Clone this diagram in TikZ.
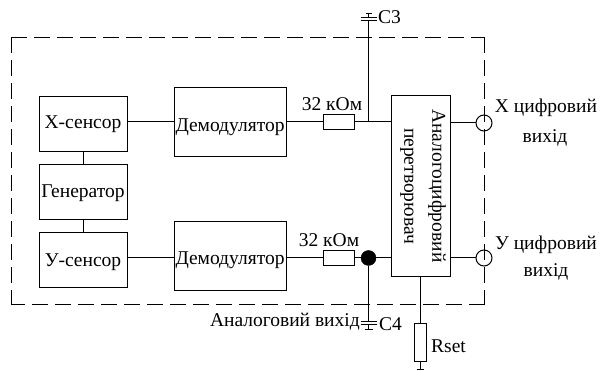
\documentclass[tikz,border=0pt]{standalone}
\usepackage{fontspec}
\setmainfont{Liberation Serif}
\usetikzlibrary{positioning}

\tikzset{
  block/.style={draw, line width=1pt, inner sep=0pt},
  lbl/.style={inner sep=0pt, font=\fontsize{19.5}{22}\selectfont},
  wire/.style={line width=1pt},
  border/.style={line width=1pt, line cap=rect, dash pattern=on 15pt off 8pt},
  port/.style={draw, circle, line width=1pt, minimum size=16pt, inner sep=0pt},
  resist/.style={draw, line width=1pt, inner sep=0pt, minimum width=31pt, minimum height=15pt}
}

\begin{document}
\begin{tikzpicture}[x=1pt, y=-1pt]
\useasboundingbox (0,0) rectangle (603,371);

% Dashed border of the chip
\coordinate (tl) at (11.5,38);
\coordinate (tr) at (484,38);
\coordinate (br) at (484,304.5);
\coordinate (bl) at (11.5,304.5);
\foreach \a/\b in {tl/tr, tr/br, br/bl, tl/bl} {
  \draw[border] (\a) -- (\b);
}

% Blocks
\node[block, minimum width=88pt, minimum height=55pt] (xsens) at (83,124.5) {};
\node[block, minimum width=88pt, minimum height=55pt] (gen) at (83,192) {};
\node[block, minimum width=88pt, minimum height=55pt] (ysens) at (83,260) {};
\node[block, minimum width=112pt, minimum height=69pt] (demx) at (230,122.5) {};
\node[block, minimum width=112pt, minimum height=69pt] (demy) at (230,256.5) {};
\node[block, minimum width=59pt, minimum height=181pt] (adc) at (420.5,186.5) {};

% Block texts
\node[lbl] (xsenst) at (83,124.5) {X-сенсор};
\node[lbl] (gent) at (83,193) {Генератор};
\node[lbl] (ysenst) at (83,262) {У-сенсор};
\node[lbl] (demxt) at (230,127) {Демодулятор};
\node[lbl] (demyt) at (230,260.5) {Демодулятор};
\node[lbl, rotate=-90] (adca) at (437,186) {Аналогоцифровий};
\node[lbl, rotate=-90] (adcb) at (407,186) {перетворювач};

% Resistors, junctions and ports
\node[resist] (rx) at (338.5,122) {};
\node[resist] (ry) at (338.5,258) {};
\node[resist, minimum width=12pt, minimum height=38pt] (rset) at (420,343) {};
\coordinate (jx) at (368.5,122);
\node[draw, circle, fill=black, minimum size=15pt, inner sep=0pt] (jy) at (368.5,258) {};
\node[port] (outx) at (484,123) {};
\node[port] (outy) at (484,258) {};
\coordinate (c3a) at (368.5,21);
\coordinate (c4a) at (368.5,321.5);
\coordinate (gnd) at (420,369.5);

% Wires
\draw[wire] (xsens.east |- rx) -- (demx.west |- rx);
\draw[wire] (ysens.east |- ry) -- (demy.west |- ry);
\draw[wire] (xsens) -- (gen);
\draw[wire] (gen) -- (ysens);
\draw[wire] (demx.east |- rx) -- (rx);
\draw[wire] (demy.east |- ry) -- (ry);
\draw[wire] (rx) -- (adc.west |- rx);
\draw[wire] (ry) -- (adc.west |- ry);
\draw[wire] (adc.east |- outx) -- (outx);
\draw[wire] (adc.east |- outy) -- (outy);
\draw[wire] (jx) -- (c3a);
\draw[wire] (jy) -- (c4a);
\draw[wire] (adc.south -| rset) -- (rset);
\draw[wire] (rset) -- (gnd);
\draw[wire] (gnd) ++(-3.5,0) -- ++(7,0);

% Capacitors
\foreach \yy/\hw in {21/8, 17.5/8, 14/3} {
  \draw[wire] (368.5,\yy) ++(-\hw,0) -- ++(2*\hw,0);
}
\foreach \yy/\hw in {321.5/8, 325/8, 330/4} {
  \draw[wire] (368.5,\yy) ++(-\hw,0) -- ++(2*\hw,0);
}
\draw[wire] (c3a) ++(0,-3.5) -- ++(0,-3.5);
\draw[wire] (c4a) ++(0,3.5) -- ++(0,5);

% Labels
\node[lbl, anchor=west] (c3) at (378,17) {C3};
\node[lbl, anchor=west] (c4) at (379,324) {C4};
\node[lbl, anchor=east] (anout) at (360,322) {Аналоговий вихід};
\node[lbl, anchor=west] (rsetl) at (431,346) {Rset};
\node[lbl] (rxl) at (332,104) {32 кОм};
\node[lbl] (ryl) at (329,240) {32 кОм};
\node[lbl] (xdig) at (546,108) {X цифровий};
\node[lbl] (xvih) at (545,138) {вихід};
\node[lbl] (ydig) at (546,245) {У цифровий};
\node[lbl] (yvih) at (546,272) {вихід};
\end{tikzpicture}
\end{document}
